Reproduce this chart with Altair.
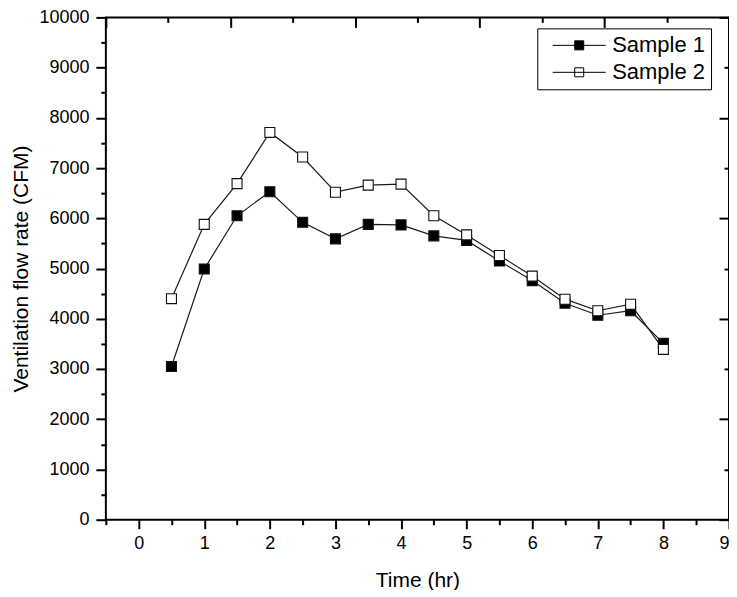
import altair as alt
import pandas as pd

# ---- data ----
times = [0.5, 1.0, 1.5, 2.0, 2.5, 3.0, 3.5, 4.0, 4.5, 5.0, 5.5, 6.0, 6.5, 7.0, 7.5, 8.0]
sample1 = [3050, 4990, 6050, 6530, 5920, 5590, 5880, 5870, 5650, 5560, 5150, 4760, 4310, 4070, 4160, 3510]
sample2 = [4400, 5880, 6690, 7710, 7220, 6520, 6660, 6680, 6050, 5670, 5260, 4850, 4390, 4160, 4290, 3390]
series_names = ["Sample 1", "Sample 2"]

x_major_ticks = [0, 1, 2, 3, 4, 5, 6, 7, 8, 9]
x_minor_ticks = [-0.5, 0.5, 1.5, 2.5, 3.5, 4.5, 5.5, 6.5, 7.5, 8.5]
y_major_ticks = [0, 1000, 2000, 3000, 4000, 5000, 6000, 7000, 8000, 9000, 10000]
y_minor_ticks = [500, 1500, 2500, 3500, 4500, 5500, 6500, 7500, 8500, 9500]
top_major_ticks = [-0.5, 1.4, 3.3, 5.2, 7.1, 9.0]
top_minor_ticks = [0.45, 2.35, 4.25, 6.15, 8.05]
right_major_ticks = [0, 2000, 4000, 6000, 8000, 10000]
right_minor_ticks = [1000, 3000, 5000, 7000, 9000]

rows = []
for name, vals in zip(series_names, [sample1, sample2]):
    for t, v in zip(times, vals):
        rows.append({"time": t, "flow": v, "series": name})
df = pd.DataFrame(rows)

FONT = "Liberation Sans"
xscale = alt.Scale(domain=[-0.5, 9], nice=False, zero=False)
yscale = alt.Scale(domain=[0, 10000], nice=False, zero=False)

common_axis = dict(grid=False, domain=False, tickColor="black", tickWidth=2,
                   labelFont=FONT, labelColor="black", titleFont=FONT,
                   titleColor="black", titleFontWeight="normal", format="d")


def xax(orient, values, size, labels=False, title=None, offset=0, **kw):
    args = dict(common_axis)
    args.update(kw)
    return alt.Axis(orient=orient, values=values, tickSize=size, labels=labels,
                    title=title, offset=offset, **args)


legend_symbol = "M -5.3 0 H 5.3 M -0.9 -0.9 H 0.9 V 0.9 H -0.9 Z"

lines = alt.Chart(df).mark_line(color="#1a1a1a", strokeWidth=1.2).encode(
    x=alt.X("time:Q", scale=xscale,
            axis=xax("bottom", x_major_ticks, 9, labels=True, title="Time (hr)",
                     labelFontSize=18, labelPadding=6, titleFontSize=21,
                     titlePadding=17)),
    y=alt.Y("flow:Q", scale=yscale,
            axis=xax("left", y_major_ticks, 10, labels=True,
                     title="Ventilation flow rate (CFM)", labelFontSize=18,
                     labelPadding=7, titleFontSize=21, titleX=-74)),
    detail="series:N",
)

points = alt.Chart(df).mark_point(shape="square", filled=True, size=100,
                                  stroke="#111111", strokeWidth=1.1, opacity=1).encode(
    x=alt.X("time:Q", scale=xscale, axis=xax("bottom", x_minor_ticks, 5)),
    y=alt.Y("flow:Q", scale=yscale, axis=xax("left", y_minor_ticks, 5)),
    fill=alt.Fill("series:N",
                  scale=alt.Scale(domain=series_names, range=["black", "white"]),
                  legend=alt.Legend(orient="none", legendX=432, legendY=11,
                                    title=None, symbolType=legend_symbol,
                                    symbolSize=100, symbolStrokeColor="black",
                                    symbolStrokeWidth=1, symbolOffset=25,
                                    labelOffset=22, labelFont=FONT,
                                    labelFontSize=22, labelColor="black",
                                    strokeColor="black", fillColor="white",
                                    padding=6, rowPadding=5, cornerRadius=0)),
)

frame_major = alt.Chart(df).mark_point(opacity=0).encode(
    x=alt.X("time:Q", scale=xscale, axis=xax("top", top_major_ticks, 10, offset=-10)),
    y=alt.Y("flow:Q", scale=yscale, axis=xax("right", right_major_ticks, 10, offset=-10)),
)
frame_minor = alt.Chart(df).mark_point(opacity=0).encode(
    x=alt.X("time:Q", scale=xscale, axis=xax("top", top_minor_ticks, 5, offset=-5)),
    y=alt.Y("flow:Q", scale=yscale, axis=xax("right", right_minor_ticks, 5, offset=-5)),
)

chart = alt.layer(lines, points, frame_major, frame_minor).resolve_axis(
    x="independent", y="independent"
).properties(
    width=624, height=503,
    autosize=alt.AutoSizeParams(type="none"),
    padding={"left": 98, "top": 9, "right": 0, "bottom": 70},
).configure_view(stroke="black", strokeWidth=2)

chart.save("out.html", embed_options={"renderer": "svg", "actions": False})
